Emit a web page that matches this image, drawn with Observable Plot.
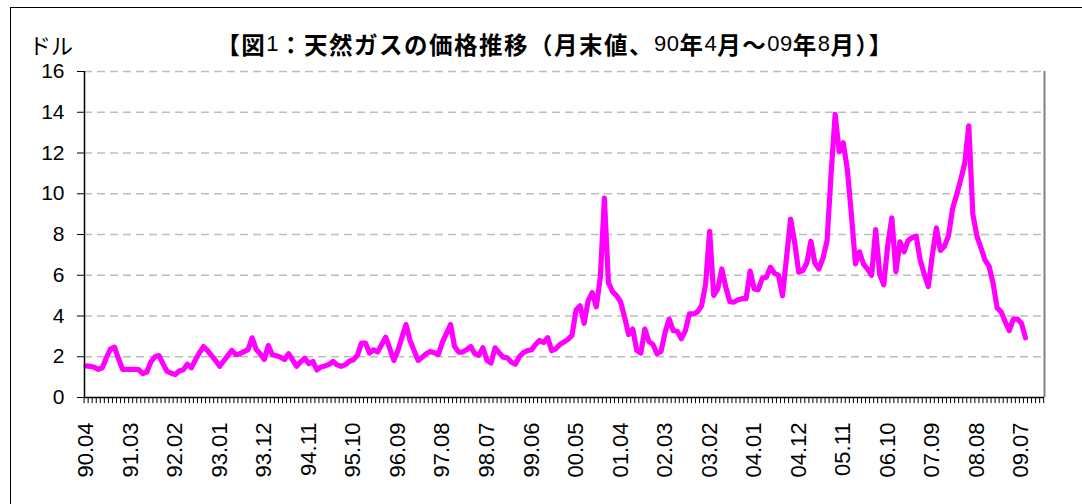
<!DOCTYPE html>
<html><head><meta charset="utf-8">
<script src="https://cdn.jsdelivr.net/npm/d3@7"></script>
<script src="https://cdn.jsdelivr.net/npm/@observablehq/plot@0.6"></script>
<style>
html,body{margin:0;padding:0;background:#fff;}
body{overflow:hidden;width:1082px;height:504px;position:relative;font-family:"Liberation Sans",Arial,sans-serif;}
#frame{position:absolute;left:10px;top:7px;width:1200px;height:600px;border:1px solid #000;box-sizing:border-box;}
#chart{position:absolute;left:0;top:0;}
#title{position:absolute;left:0;width:1110px;top:29px;line-height:30px;text-align:center;font-family:"Noto Sans CJK JP",sans-serif;font-size:23.5px;letter-spacing:1.5px;font-weight:bold;color:#000;white-space:nowrap;}
#title .n{font-family:"Liberation Sans",Arial,sans-serif;font-weight:normal;font-size:22px;position:relative;top:-3px;letter-spacing:0.5px;}
#unit{position:absolute;left:29px;top:29px;line-height:30px;font-family:"Noto Sans CJK JP",sans-serif;font-size:22px;color:#000;}
</style></head><body>
<div id="frame"></div>
<div id="chart"></div>
<div id="unit">ドル</div>
<div id="title">【図<span class="n">1</span>：天然ガスの価格推移（月末値、<span class="n">90</span>年<span class="n">4</span>月～<span class="n">09</span>年<span class="n">8</span>月）】</div>
<script>
// Monthly end-of-month natural gas price (USD), 1990.04 - 2009.08
const startYear = 1990;
const startMonth = 4;
const prices = [
  1.55,1.53,1.48,1.38,1.46,1.95,2.38,2.47,1.90,            // 1990.04-12
  1.38,1.38,1.38,1.38,1.37,1.17,1.25,1.75,2.00,2.06,1.65,1.28, // 1991
  1.20,1.12,1.30,1.36,1.63,1.46,1.85,2.20,2.50,2.30,2.05,1.80, // 1992
  1.53,1.80,2.05,2.31,2.10,2.15,2.25,2.35,2.93,2.36,2.15,1.87, // 1993
  2.55,2.10,2.05,1.98,1.87,2.15,1.85,1.53,1.75,1.93,1.66,1.77, // 1994
  1.35,1.50,1.55,1.63,1.77,1.60,1.53,1.60,1.78,1.85,2.07,2.67, // 1995
  2.67,2.18,2.34,2.23,2.60,2.96,2.40,1.82,2.31,2.95,3.58,2.80, // 1996
  2.30,1.82,1.98,2.15,2.26,2.20,2.11,2.72,3.15,3.58,2.50,2.23, // 1997
  2.23,2.35,2.50,2.15,2.07,2.44,1.82,1.69,2.44,2.20,1.98,1.95, // 1998
  1.74,1.63,2.00,2.20,2.30,2.34,2.60,2.80,2.70,2.93,2.30,2.39, // 1999
  2.60,2.72,2.85,3.05,4.29,4.50,3.64,4.75,5.15,4.45,5.90,9.79, // 2000
  5.64,5.20,5.00,4.70,3.93,3.09,3.36,2.31,2.18,3.36,2.75,2.60, // 2001
  2.15,2.27,3.20,3.85,3.28,3.25,2.88,3.28,4.10,4.10,4.20,4.50, // 2002
  5.56,8.16,5.01,5.33,6.31,5.40,4.70,4.68,4.80,4.85,4.85,6.20, // 2003
  5.33,5.29,5.85,5.90,6.40,6.10,6.00,5.00,6.90,8.76,7.60,6.15, // 2004
  6.23,6.60,7.67,6.59,6.31,6.85,7.70,11.00,13.90,12.06,12.50,11.20, // 2005
  9.00,6.56,7.15,6.55,6.30,6.00,8.24,6.05,5.53,7.50,8.81,6.18, // 2006
  7.64,7.15,7.70,7.85,7.92,6.75,6.05,5.45,7.00,8.32,7.22,7.43, // 2007
  7.95,9.27,9.95,10.68,11.50,13.33,9.00,7.92,7.35,6.75,6.45,5.60, // 2008
  4.40,4.20,3.72,3.28,3.85,3.85,3.65,2.93                  // 2009.01-08
];
const yTicks = [0, 2, 4, 6, 8, 10, 12, 14, 16];
const xTickLabels = ["90.04","91.03","92.02","93.01","93.12","94.11","95.10","96.09","97.08","98.07","99.06",
                     "00.05","01.04","02.03","03.02","04.01","04.12","05.11","06.10","07.09","08.08","09.07"];
const xTickStep = 11; // months between labels

const months = prices.map((_, i) => {
  const m = startMonth - 1 + i;
  const y = startYear + Math.floor(m / 12);
  return String(y % 100).padStart(2, "0") + "." + String(m % 12 + 1).padStart(2, "0");
});
const data = prices.map((v, i) => ({i, month: months[i], v}));
const labelData = xTickLabels.map((t, k) => ({i: k * xTickStep, t}));
const xMin = -0.4, xMax = 236.7;
const monthTicks = d3.range(0, 238).map(k => k - 0.5);

const font = "Liberation Sans, Arial, sans-serif";
const chart = Plot.plot({
  width: 1082,
  height: 504,
  marginLeft: 84,
  marginRight: 38,
  marginTop: 71,
  marginBottom: 107,
  x: {domain: [xMin, xMax], axis: null},
  y: {domain: [0, 16], axis: null, label: null},
  style: {fontFamily: font, background: "transparent", color: "#000", overflow: "visible"},
  marks: [
    Plot.gridY(yTicks.filter(d => d > 0), {stroke: "#bdbdbd", strokeOpacity: 1, strokeWidth: 1.5, strokeDasharray: "8,5"}),
    Plot.ruleX([xMax], {stroke: "#808080", strokeWidth: 2}),
    Plot.line(data, {x: "i", y: "v", stroke: "#ff00ff", strokeWidth: 5.2, strokeLinejoin: "round", strokeLinecap: "round"}),
    Plot.ruleX(monthTicks, {y1: 0, y2: -0.3, stroke: "#000", strokeWidth: 1}),
    Plot.ruleY([0], {stroke: "#000", strokeWidth: 1.5}),
    Plot.ruleX([xMin], {stroke: "#000", strokeWidth: 1.5}),
    Plot.axisY(yTicks, {label: null, tickSize: 7, tickPadding: 13, fontSize: 21, fontFamily: font}),
    Plot.text(labelData, {x: "i", y: 0, text: "t", rotate: -90, textAnchor: "end", dy: 25, fontSize: 22, fontFamily: font, fill: "#000"})
  ]
});
document.getElementById("chart").appendChild(chart);
</script>
</body></html>
